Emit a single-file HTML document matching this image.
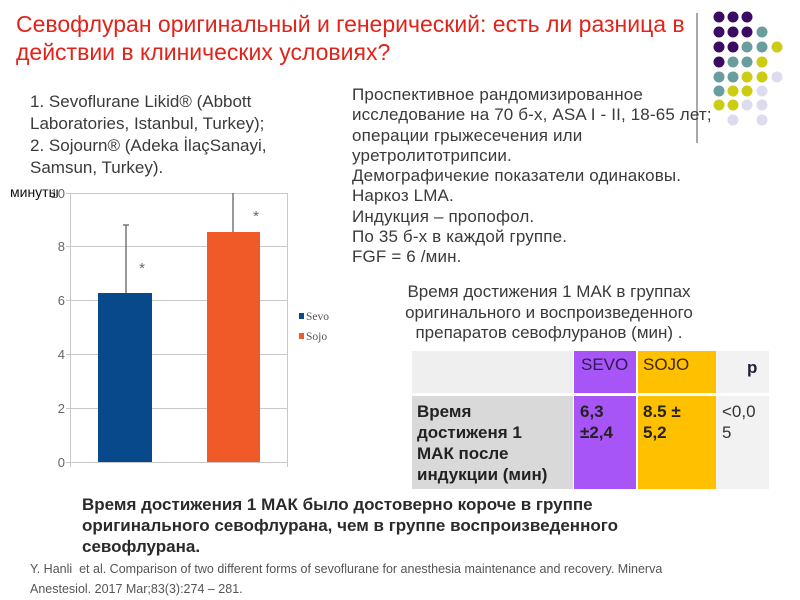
<!DOCTYPE html>
<html><head><meta charset="utf-8">
<style>
html,body{margin:0;padding:0;background:#fff;}
body{width:800px;height:600px;position:relative;overflow:hidden;font-family:"Liberation Sans","Noto Sans CJK SC",sans-serif;}
.a{position:absolute;white-space:nowrap;}
#title{left:16px;top:10px;font-size:23px;line-height:28px;color:#e2231a;}
#list{left:30px;top:91px;font-size:17px;line-height:22px;color:#3a3a3a;}
#right{left:352px;top:85px;font-size:17px;line-height:20.25px;color:#3a3a3a;letter-spacing:0.15px;}
#center{left:380px;top:282px;width:338px;text-align:center;font-size:17px;line-height:20.5px;color:#3a3a3a;}
#min{left:10px;top:184px;font-size:14px;line-height:16px;color:#111;}
#bottom{left:82px;top:494px;font-size:17px;line-height:21px;color:#2a2a2a;font-weight:bold;}
#cite{left:30px;top:559px;font-size:12.5px;line-height:20px;color:#555;white-space:pre;}
.c{position:absolute;box-sizing:border-box;}
.tb{font-size:17px;line-height:21px;font-weight:bold;color:#222;}
</style></head><body>
<svg class="a" style="left:0;top:0" width="800" height="600" xmlns="http://www.w3.org/2000/svg">
  <g stroke="#c8c8c8" stroke-width="1">
    <line x1="66" y1="193.5" x2="287" y2="193.5"/>
    <line x1="66" y1="246.5" x2="287" y2="246.5"/>
    <line x1="66" y1="300.5" x2="287" y2="300.5"/>
    <line x1="66" y1="354.5" x2="287" y2="354.5"/>
    <line x1="66" y1="408.5" x2="287" y2="408.5"/>
    <line x1="66" y1="462.5" x2="287" y2="462.5"/>
    <line x1="70.5" y1="193" x2="70.5" y2="467"/>
    <line x1="287.5" y1="193" x2="287.5" y2="467"/>
  </g>
  <g font-family="Liberation Sans, sans-serif" font-size="13" fill="#666" text-anchor="end">
    <text x="65" y="198">10</text>
    <text x="65" y="251">8</text>
    <text x="65" y="305">6</text>
    <text x="65" y="359">4</text>
    <text x="65" y="413">2</text>
    <text x="65" y="467">0</text>
  </g>
  <rect x="98" y="293" width="54" height="169" fill="#07498a"/>
  <rect x="207" y="232" width="53" height="230" fill="#f05a28"/>
  <g stroke="#777" stroke-width="1.5">
    <line x1="126" y1="293" x2="126" y2="225"/>
    <line x1="123" y1="225" x2="129" y2="225"/>
    <line x1="233" y1="232" x2="233" y2="193"/>
  </g>
  <g font-family="Liberation Sans, sans-serif" font-size="15" fill="#666" text-anchor="middle">
    <text x="142" y="273">*</text>
    <text x="256" y="221">*</text>
  </g>
  <rect x="299" y="313" width="5" height="6" fill="#07498a"/>
  <rect x="299" y="333" width="5" height="6" fill="#f05a28"/>
  <g font-family="Liberation Serif, serif" font-size="11.5" fill="#555">
    <text x="306" y="320">Sevo</text>
    <text x="306" y="340">Sojo</text>
  </g>
  <line x1="697" y1="13" x2="697" y2="143" stroke="#a8a8a8" stroke-width="2"/>
  <g>
    <circle cx="719" cy="17" r="5.5" fill="#3b0b63"/>
    <circle cx="733" cy="17" r="5.5" fill="#3b0b63"/>
    <circle cx="747" cy="17" r="5.5" fill="#3b0b63"/>

    <circle cx="719" cy="32" r="5.5" fill="#3b0b63"/>
    <circle cx="733" cy="32" r="5.5" fill="#3b0b63"/>
    <circle cx="747" cy="32" r="5.5" fill="#3b0b63"/>
    <circle cx="762" cy="32" r="5.5" fill="#6a9e9e"/>

    <circle cx="719" cy="47" r="5.5" fill="#3b0b63"/>
    <circle cx="733" cy="47" r="5.5" fill="#3b0b63"/>
    <circle cx="747" cy="47" r="5.5" fill="#6a9e9e"/>
    <circle cx="762" cy="47" r="5.5" fill="#6a9e9e"/>
    <circle cx="777" cy="47" r="5.5" fill="#cccc14"/>

    <circle cx="719" cy="62" r="5.5" fill="#3b0b63"/>
    <circle cx="733" cy="62" r="5.5" fill="#6a9e9e"/>
    <circle cx="747" cy="62" r="5.5" fill="#6a9e9e"/>
    <circle cx="762" cy="62" r="5.5" fill="#cccc14"/>

    <circle cx="719" cy="77" r="5.5" fill="#6a9e9e"/>
    <circle cx="733" cy="77" r="5.5" fill="#6a9e9e"/>
    <circle cx="747" cy="77" r="5.5" fill="#cccc14"/>
    <circle cx="762" cy="77" r="5.5" fill="#cccc14"/>
    <circle cx="777" cy="77" r="5.5" fill="#dcdcee"/>

    <circle cx="719" cy="91" r="5.5" fill="#6a9e9e"/>
    <circle cx="733" cy="91" r="5.5" fill="#cccc14"/>
    <circle cx="747" cy="91" r="5.5" fill="#cccc14"/>
    <circle cx="762" cy="91" r="5.5" fill="#dcdcee"/>

    <circle cx="719" cy="105" r="5.5" fill="#cccc14"/>
    <circle cx="733" cy="105" r="5.5" fill="#cccc14"/>
    <circle cx="747" cy="105" r="5.5" fill="#dcdcee"/>
    <circle cx="762" cy="105" r="5.5" fill="#dcdcee"/>

    <circle cx="733" cy="120" r="5.5" fill="#dcdcee"/>
    <circle cx="762" cy="120" r="5.5" fill="#dcdcee"/>
  </g>
</svg>

<div class="a" id="title">Севофлуран оригинальный и генерический: есть ли разница в<br>действии в клинических условиях?</div>

<div class="a" id="list">1. Sevoflurane Likid® (Abbott<br>Laboratories, Istanbul, Turkey);<br>2. Sojourn® (Adeka İlaçSanayi,<br>Samsun, Turkey).</div>

<div class="a" id="min">минуты</div>

<div class="a" id="right">Проспективное рандомизированное<br>исследование на 70 б-х, ASA I - II, 18-65 лет;<br>операции грыжесечения или<br>уретролитотрипсии.<br>Демографичекие показатели одинаковы.<br>Наркоз LMA.<br>Индукция – пропофол.<br>По 35 б-х в каждой группе.<br>FGF = 6 /мин.</div>

<div class="a" id="center">Время достижения 1 МАК в группах<br>оригинального и воспроизведенного<br>препаратов севофлуранов (мин) .</div>

<div class="c" style="left:412px;top:351px;width:161px;height:42px;background:#efefef;"></div>
<div class="c" style="left:574px;top:351px;width:62px;height:42px;background:#a855f7;"></div>
<div class="c" style="left:638px;top:351px;width:78px;height:42px;background:#ffc000;"></div>
<div class="c" style="left:716px;top:351px;width:53px;height:42px;background:#f2f2f2;"></div>
<div class="a" style="left:581px;top:354px;font-size:17px;line-height:21px;color:#2e1a52;">SEVO</div>
<div class="a" style="left:643px;top:354px;font-size:17px;line-height:21px;color:#3a2a0a;">SOJO</div>
<div class="a" style="left:747px;top:357px;font-size:17px;line-height:21px;color:#1f1f3a;font-weight:bold;">p</div>

<div class="c" style="left:412px;top:396px;width:161px;height:93px;background:#d9d9d9;"></div>
<div class="c" style="left:574px;top:396px;width:62px;height:93px;background:#a855f7;"></div>
<div class="c" style="left:638px;top:396px;width:78px;height:93px;background:#ffc000;"></div>
<div class="c" style="left:716px;top:396px;width:53px;height:93px;background:#f2f2f2;"></div>
<div class="a tb" style="left:417px;top:401px;">Время<br>достиженя 1<br>МАК после<br>индукции (мин)</div>
<div class="a tb" style="left:580px;top:401px;">6,3<br>±2,4</div>
<div class="a tb" style="left:643px;top:401px;">8.5 ±<br>5,2</div>
<div class="a" style="left:722px;top:401px;font-size:17px;line-height:21px;color:#333;">&lt;0,0<br>5</div>

<div class="a" id="bottom">Время достижения 1 МАК было достоверно короче в группе<br>оригинального севофлурана, чем в группе воспроизведенного<br>севофлурана.</div>

<div class="a" id="cite">Y. Hanli  et al. Comparison of two different forms of sevoflurane for anesthesia maintenance and recovery. Minerva
Anestesiol. 2017 Mar;83(3):274 – 281.</div>
</body></html>
